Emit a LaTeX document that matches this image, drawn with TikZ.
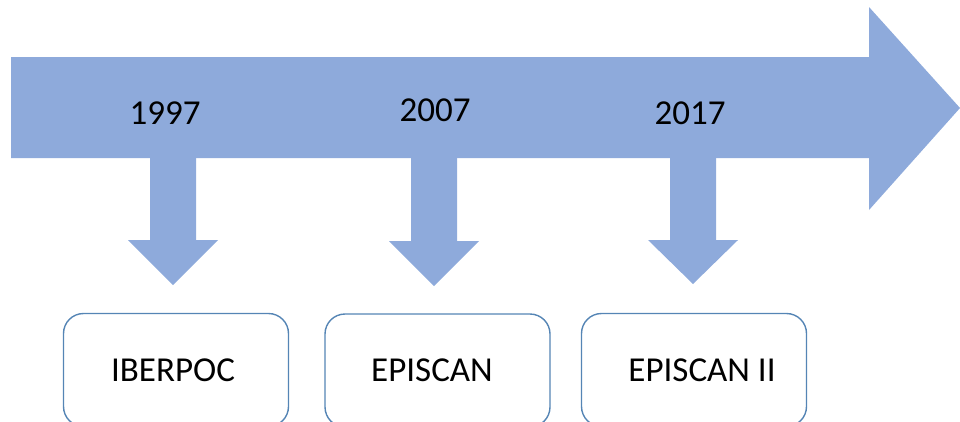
\documentclass[tikz,border=0pt]{standalone}
\usepackage{fontspec}
\setmainfont{Carlito}
\definecolor{arrowfill}{HTML}{8EAADB}
\definecolor{boxline}{HTML}{5585B5}
\begin{document}
\begin{tikzpicture}[x=1pt,y=-1pt,
  bigarrow/.style={fill=arrowfill,draw=none},
  yearlbl/.style={font=\fontsize{35}{40}\selectfont,text=black,inner sep=0pt},
  eventbox/.style={draw=boxline,line width=1.4pt,rounded corners=20pt,fill=white,minimum width=225pt,minimum height=113pt,inner sep=0pt},
  eventlbl/.style={font=\fontsize{35}{40}\selectfont,text=black,inner sep=0pt}]
\useasboundingbox (0,0) rectangle (960,421);
\clip (0,0) rectangle (960,421);
% main timeline arrow
\fill[bigarrow] (11,57) -- (869,57) -- (869,7) -- (960,108) -- (869,210) -- (869,158) -- (11,158) -- cycle;
% down arrows
\fill[bigarrow] (150,150) -- (196,150) -- (196,240) -- (218,240) -- (173,285) -- (128,240) -- (150,240) -- cycle;
\fill[bigarrow] (411,150) -- (457,150) -- (457,241) -- (479,241) -- (434,286) -- (389,241) -- (411,241) -- cycle;
\fill[bigarrow] (670,150) -- (716,150) -- (716,240) -- (738,240) -- (693,284) -- (648,240) -- (670,240) -- cycle;
% years
\node[yearlbl] (y1) at (165,113) {1997};
\node[yearlbl] (y2) at (435,110) {2007};
\node[yearlbl] (y3) at (690,113) {2017};
% boxes
\node[eventbox] (b1) at (176,370) {};
\node[eventbox] (b2) at (437.5,370.5) {};
\node[eventbox] (b3) at (694,370) {};
\node[eventlbl] (t1) at (173,370) {IBERPOC};
\node[eventlbl] (t2) at (432,370) {EPISCAN};
\node[eventlbl] (t3) at (702,370) {EPISCAN II};
\end{tikzpicture}
\end{document}
